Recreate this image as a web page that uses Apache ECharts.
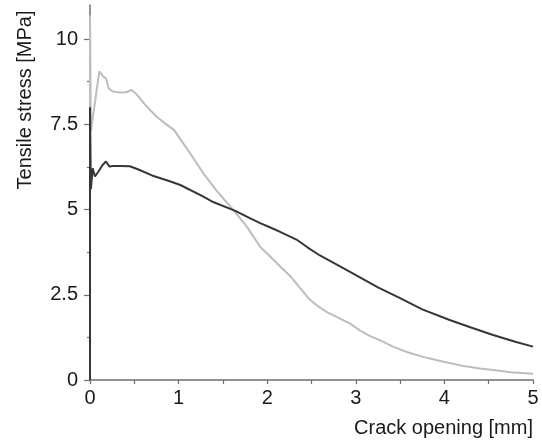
<!DOCTYPE html>
<html>
<head>
<meta charset="utf-8">
<script src="https://cdn.jsdelivr.net/npm/echarts@6/dist/echarts.min.js"></script>
<style>html,body{margin:0;padding:0;background:#fff}#c{width:542px;height:444px}</style>
</head>
<body>
<div id="c"></div>
<script>
// Light grey curve
const lightX = [0, 0, 0.01, 0.105, 0.12, 0.15, 0.18, 0.21, 0.26, 0.34, 0.41, 0.47, 0.53, 0.63, 0.75, 0.85, 0.95, 1.05, 1.13, 1.28, 1.43, 1.60, 1.77, 1.92, 2.05, 2.15, 2.27, 2.37, 2.48, 2.58, 2.67, 2.80, 2.93, 3.05, 3.15, 3.27, 3.42, 3.60, 3.80, 3.98, 4.20, 4.40, 4.55, 4.75, 5.00];
const lightY = [0, 10.7, 7.3, 9.05, 9.0, 8.9, 8.85, 8.56, 8.46, 8.43, 8.44, 8.51, 8.37, 8.05, 7.73, 7.52, 7.33, 6.95, 6.65, 6.06, 5.55, 5.04, 4.50, 3.91, 3.58, 3.32, 3.02, 2.70, 2.36, 2.15, 2.0, 1.83, 1.66, 1.45, 1.30, 1.17, 0.98, 0.80, 0.65, 0.54, 0.42, 0.34, 0.29, 0.23, 0.18];
// Dark curve
const darkX = [0, 0, 0.01, 0.03, 0.056, 0.094, 0.14, 0.18, 0.22, 0.26, 0.34, 0.45, 0.51, 0.56, 0.70, 0.90, 1.02, 1.28, 1.39, 1.64, 1.77, 1.92, 2.03, 2.14, 2.33, 2.45, 2.59, 2.93, 3.25, 3.50, 3.75, 4.06, 4.30, 4.55, 4.80, 5.00];
const darkY = [0, 8.0, 5.6, 6.21, 5.97, 6.11, 6.30, 6.41, 6.26, 6.28, 6.28, 6.27, 6.21, 6.16, 6.0, 5.83, 5.72, 5.38, 5.22, 4.96, 4.79, 4.60, 4.48, 4.35, 4.12, 3.90, 3.66, 3.18, 2.72, 2.40, 2.07, 1.76, 1.54, 1.32, 1.12, 0.98];
// Ticks
const yLabels = [0, 2.5, 5, 7.5, 10];
const yMinor = [1.25, 3.75, 6.25, 8.75];
const xTitle = 'Crack opening [mm]';
const yTitle = 'Tensile stress [MPa]';

const pairs = (xs, ys) => xs.map((x, i) => [x, ys[i]]);
const FONT = 'Liberation Sans, Arial, sans-serif';
const chart = echarts.init(document.getElementById('c'), null, {renderer: 'canvas'});
chart.setOption({
  animation: false,
  backgroundColor: '#ffffff',
  grid: {left: 90, right: 9, top: 5, bottom: 64},
  xAxis: {
    type: 'value', min: 0, max: 5, interval: 1,
    axisLine: {show: true, lineStyle: {color: '#6e6e6e', width: 1.5}},
    axisTick: {show: true, length: 4, lineStyle: {color: '#6e6e6e', width: 1.2}},
    minorTick: {show: true, splitNumber: 2, length: 4, lineStyle: {color: '#6e6e6e', width: 1.2}},
    splitLine: {show: false},
    axisLabel: {color: '#1a1a1a', fontSize: 20, fontFamily: FONT, margin: 8}
  },
  yAxis: [{
    type: 'value', min: 0, max: 11,
    axisLine: {show: true, lineStyle: {color: '#6e6e6e', width: 1.5}},
    axisTick: {show: true, length: 6, customValues: yLabels, lineStyle: {color: '#6e6e6e', width: 1.2}},
    splitLine: {show: false},
    axisLabel: {color: '#1a1a1a', fontSize: 20, fontFamily: FONT, margin: 12, customValues: yLabels}
  }, {
    type: 'value', min: 0, max: 11, position: 'left',
    axisLine: {show: false},
    axisTick: {show: true, length: 3, customValues: yMinor, lineStyle: {color: '#6e6e6e', width: 1.2}},
    splitLine: {show: false},
    axisLabel: {show: false}
  }],
  graphic: [
    {type: 'text', x: 533, y: 428, style: {text: xTitle, fill: '#1a1a1a', font: '20px ' + FONT, align: 'right', verticalAlign: 'middle'}},
    {type: 'text', x: 25, y: 100, rotation: Math.PI / 2, style: {text: yTitle, fill: '#1a1a1a', font: '20px ' + FONT, align: 'center', verticalAlign: 'middle'}}
  ],
  series: [
    {type: 'line', yAxisIndex: 0, data: pairs(lightX, lightY), showSymbol: false, smooth: false,
     lineStyle: {color: '#bdbdbd', width: 2}},
    {type: 'line', yAxisIndex: 0, data: pairs(darkX, darkY), showSymbol: false, smooth: false,
     lineStyle: {color: '#363636', width: 2}}
  ]
});
</script>
</body>
</html>
